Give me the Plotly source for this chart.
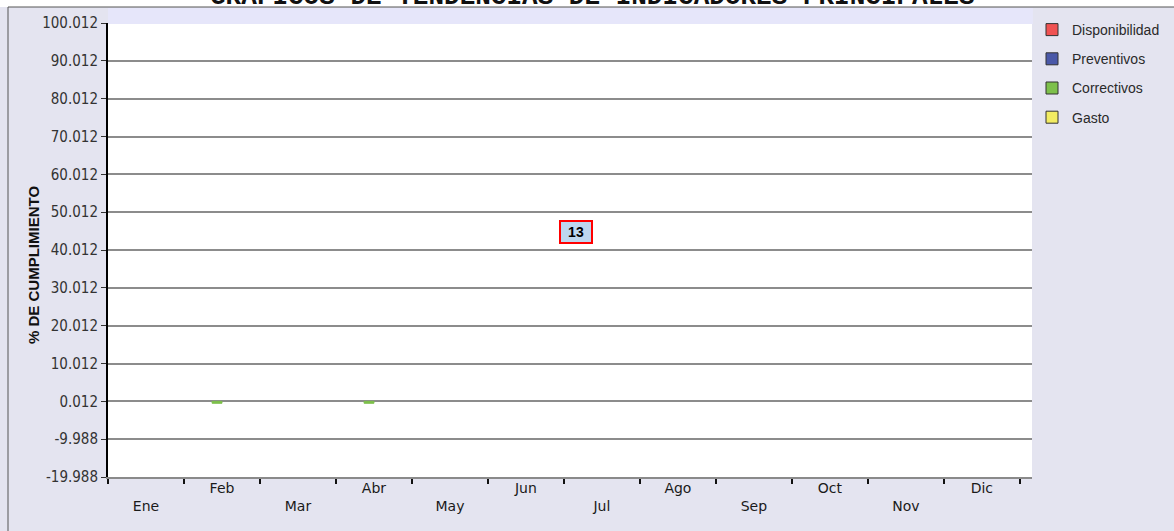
import plotly.graph_objects as go

months = ["Ene", "Feb", "Mar", "Abr", "May", "Jun", "Jul", "Ago", "Sep", "Oct", "Nov", "Dic"]
disponibilidad = [None, None, None, None, None, None, None, None, None, None, None, None]
preventivos = [None, None, None, None, None, None, None, None, None, None, None, None]
correctivos = [None, -0.5, None, -0.5, None, None, None, None, None, None, None, None]
gasto = [None, None, None, None, None, None, None, None, None, None, None, None]
y_ticks = [-19.988, -9.988, 0.012, 10.012, 20.012, 30.012, 40.012, 50.012, 60.012, 70.012, 80.012, 90.012, 100.012]
y_labels = ["-19.988", "-9.988", "0.012", "10.012", "20.012", "30.012", "40.012", "50.012", "60.012", "70.012", "80.012", "90.012", "100.012"]
x_labels = [" <br>Ene", "Feb", " <br>Mar", "Abr", " <br>May", "Jun", " <br>Jul", "Ago", " <br>Sep", "Oct", " <br>Nov", "Dic"]
callout_value = "13"
title_text = "GRAFICOS DE TENDENCIAS DE INDICADORES PRINCIPALES"
y_title = "% DE CUMPLIMIENTO"

series = [
    ("Disponibilidad", disponibilidad, "#F05252"),
    ("Preventivos", preventivos, "#4A58A8"),
    ("Correctivos", correctivos, "#7DC04B"),
    ("Gasto", gasto, "#F2EC62"),
]

FONT = "DejaVu Sans Condensed, DejaVu Sans, sans-serif"

fig = go.Figure()
for name, vals, col in series:
    line_cols = ["#333333" if v is None else col for v in vals]
    fig.add_trace(go.Bar(
        x=months, y=vals, name=name, legendgroup=name,
        marker=dict(color=col, line=dict(color=line_cols, width=1)),
        width=0.13, offset=-0.13,
    ))

W, H = 1174.0, 531.0
PH = 454.0  # plot height px
PW = 924.0  # plot width px


def px_x(p):
    return (p - 108) / PW


def px_y(p):
    return (477 - p) / PH


fig.update_layout(
    width=1174, height=531,
    margin=dict(l=108, r=142, t=23, b=54, pad=0, autoexpand=False),
    paper_bgcolor="#E4E4F0", plot_bgcolor="#FFFFFF",
    barmode="group", bargap=0.47,
    showlegend=True,
    legend=dict(xref="container", yref="container", x=1032 / W, xanchor="left", y=1 - 14 / H, yanchor="top",
                bgcolor="rgba(0,0,0,0)", traceorder="grouped", tracegroupgap=8,
                font=dict(family="Liberation Sans, Arial, sans-serif", size=14, color="#2a2a2a")),
    xaxis=dict(type="category", categoryorder="array", categoryarray=months,
               range=[-0.5, 11.66], tickmode="array", tickvals=months, ticktext=x_labels,
               tickson="boundaries", ticks="outside", ticklen=5, tickwidth=2, tickcolor="#111111",
               showline=True, linecolor="#8a8a8a", linewidth=2, showgrid=False,
               ticklabelstandoff=-3,
               tickfont=dict(family="DejaVu Sans, sans-serif", size=14, color="#1a1a1a"), tickangle=0),
    yaxis=dict(range=[-19.988, 100.012], tickmode="array", tickvals=y_ticks, ticktext=y_labels,
               ticks="outside", ticklen=5, tickwidth=1, tickcolor="#333333",
               showline=True, linecolor="#000000", linewidth=2,
               showgrid=True, gridcolor="#8c8c8c", gridwidth=2, zeroline=False,
               tickfont=dict(family=FONT, size=15, color="#333333")),
    shapes=[
        dict(type="rect", xref="paper", yref="paper", x0=px_x(-5), x1=px_x(1180), y0=px_y(7), y1=px_y(-5),
             fillcolor="#FFFFFF", line=dict(width=0), layer="below"),
        dict(type="rect", xref="x domain", yref="y domain", x0=0, x1=1.001, y0=0.998, y1=px_y(8),
             fillcolor="#E6E6FA", line=dict(width=0), layer="above"),
        dict(type="line", xref="paper", yref="paper", x0=px_x(8), x1=px_x(8),
             y0=px_y(7), y1=px_y(540), line=dict(color="#555555", width=1)),
        dict(type="line", xref="paper", yref="paper", x0=px_x(8), x1=px_x(1180),
             y0=px_y(7), y1=px_y(7), line=dict(color="#555555", width=1)),
    ],
    annotations=[
        dict(text=f"<b>{title_text}</b>", xref="paper", yref="paper",
             x=px_x(592), y=px_y(-2.5), xanchor="center", yanchor="middle",
             showarrow=False, font=dict(family="Liberation Mono, Courier New, monospace", size=26, color="#111111")),
        dict(text=f"<b>{y_title}</b>", xref="paper", yref="paper",
             x=px_x(33), y=px_y(265), xanchor="center", yanchor="middle",
             textangle=-90, showarrow=False,
             font=dict(family="Liberation Sans, Arial, sans-serif", size=15, color="#111111")),
        dict(text=f"<b>{callout_value}</b>", xref="paper", yref="paper",
             x=px_x(576), y=px_y(232), xanchor="center", yanchor="middle",
             showarrow=False, bgcolor="#BDD7EE", bordercolor="#FF0000", borderwidth=2, borderpad=2,
             width=26, height=16,
             font=dict(family="Liberation Sans, Arial, sans-serif", size=14, color="#000000")),
    ],
)

fig.write_html("out.html", config={"displayModeBar": False},
               post_script="document.body.style.margin='0';")
